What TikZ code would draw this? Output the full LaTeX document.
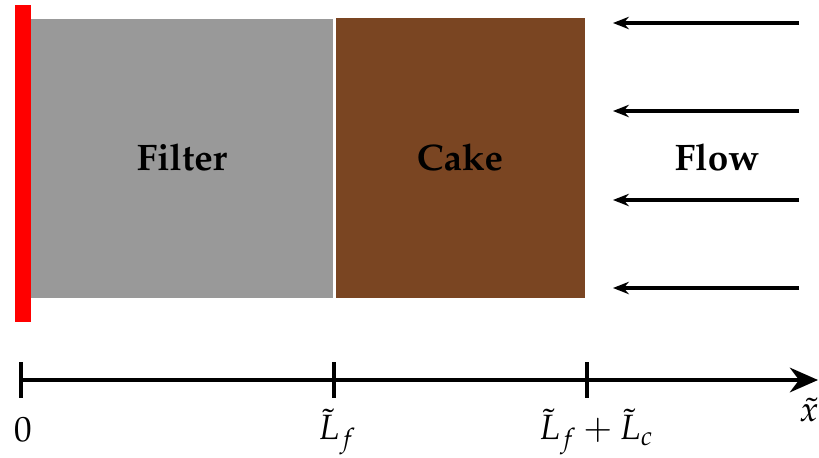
\documentclass[tikz,border=0pt]{standalone}
\usepackage[T1]{fontenc}
\usepackage{mathpazo}
\usetikzlibrary{arrows.meta}
\definecolor{filtergray}{HTML}{999999}
\definecolor{cakebrown}{HTML}{7A4522}
\tikzset{
  lbl/.style={font=\fontsize{21}{25}\selectfont\bfseries},
  axlbl/.style={font=\fontsize{20}{24}\selectfont},
  flowarrow/.style={line width=1.9pt,-{Stealth[length=9pt,width=7pt]}},
  tick/.style={line width=1.8pt},
}
\begin{document}
\begin{tikzpicture}[x=0.02cm,y=-0.02cm]
\useasboundingbox (0,0) rectangle (819,457);
% filter
\fill[filtergray] (31,19) rectangle (333,298);
\node[lbl] (filter) at (182,157) {Filter};
% cake
\fill[cakebrown] (336,18) rectangle (585,298);
\node[lbl] (cake) at (460,157) {Cake};
% wall
\fill[red] (15,5) rectangle (31,322);
% flow
\node[lbl] (flow) at (717,157) {Flow};
\foreach \y/\n in {23/a,111/b,200/c,288/d}{
  \coordinate (s\n) at (799,\y);
  \coordinate (e\n) at (613,\y);
  \draw[flowarrow] (s\n) -- (e\n);
}
% axis
\coordinate (ax0) at (20,380);
\coordinate (ax1) at (818,380);
\draw[line width=2.3pt,-{Stealth[length=16pt,width=14pt]}] (ax0) -- (ax1);
\foreach \x/\n in {21/t0,334/t1,587/t2}{
  \coordinate (\n a) at (\x,362);
  \coordinate (\n b) at (\x,398);
  \draw[tick] (\n a) -- (\n b);
}
\node[axlbl] (l0) at (23,430) {$0$};
\node[axlbl] (l1) at (337,432) {$\tilde{L}_f$};
\node[axlbl] (l2) at (596,432) {$\tilde{L}_f+\tilde{L}_c$};
\node[axlbl] (lx) at (809,410) {$\tilde{x}$};
\end{tikzpicture}
\end{document}
